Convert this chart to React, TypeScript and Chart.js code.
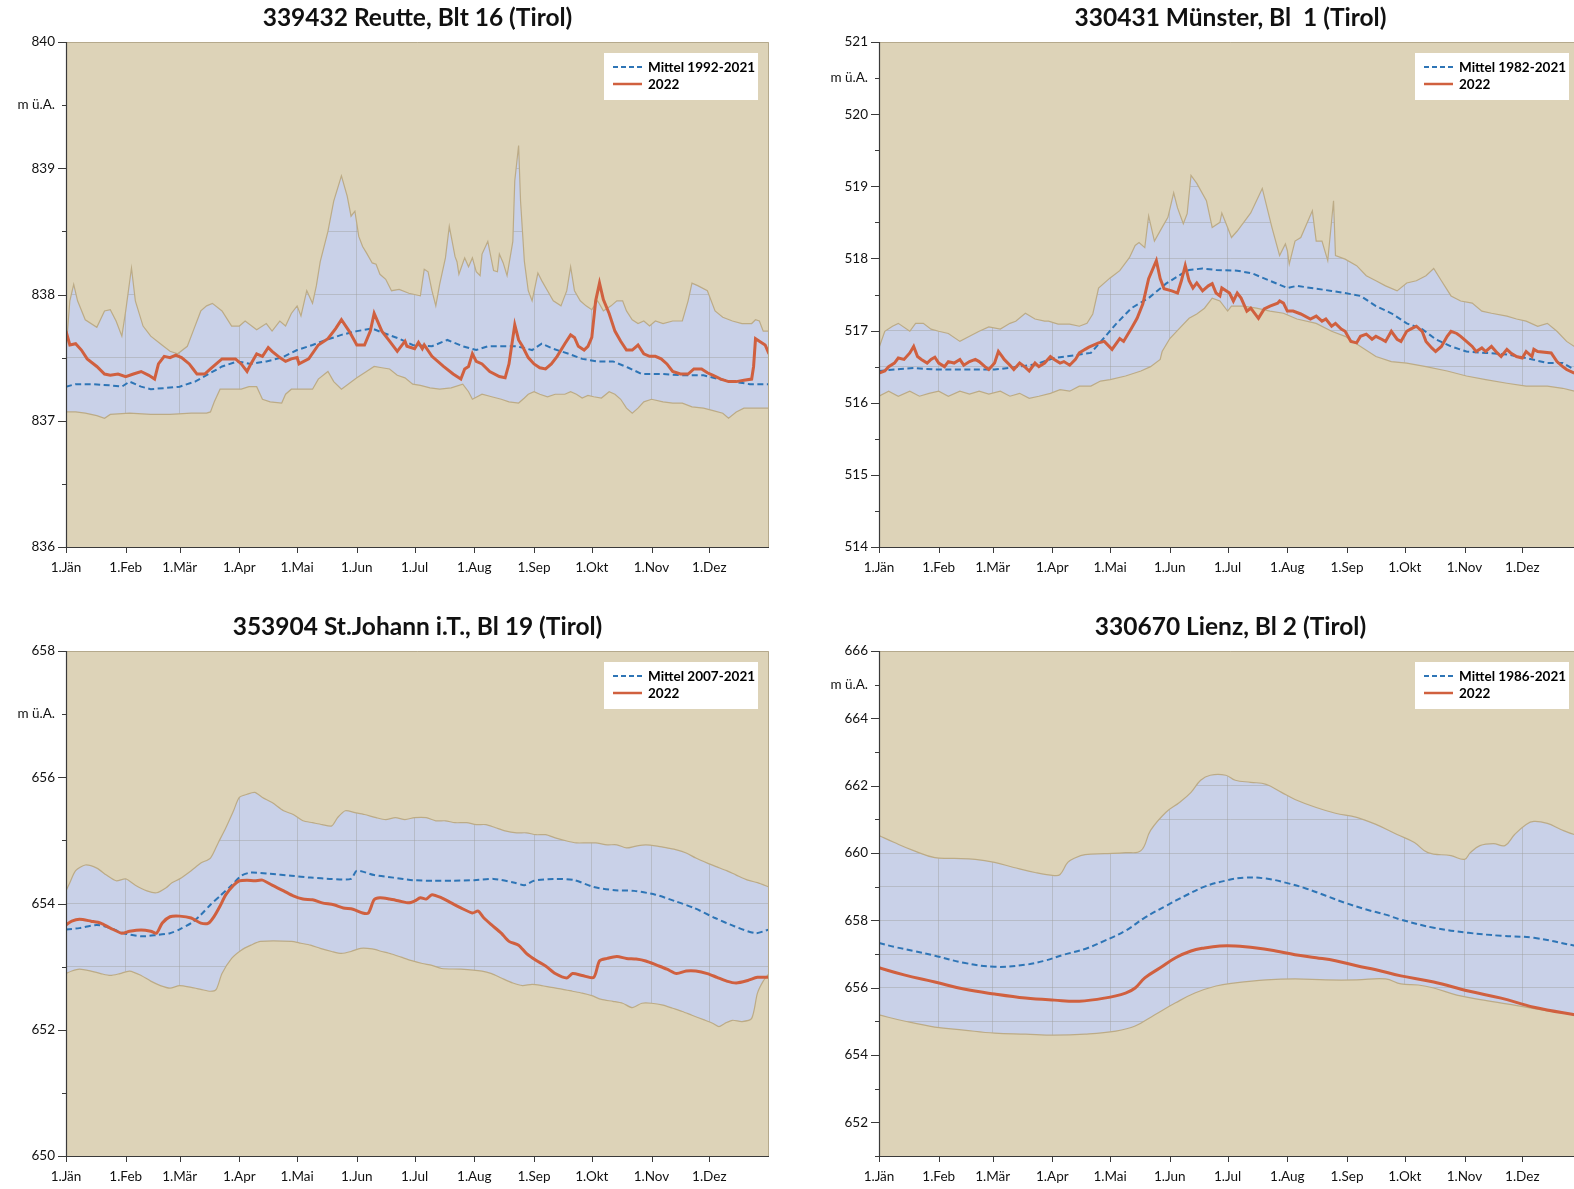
import React, { useEffect, useRef } from 'react';
import { Chart, registerables } from 'chart.js';

Chart.register(...registerables);

type Pts = [number, number][];

const FONT = 'Lato, "Open Sans", sans-serif';
const UNIT = 'm ü.A.';

const monthStarts = [0, 31, 59, 90, 120, 151, 181, 212, 243, 273, 304, 334];
const monthLabels = ['1.Jän', '1.Feb', '1.Mär', '1.Apr', '1.Mai', '1.Jun', '1.Jul', '1.Aug', '1.Sep', '1.Okt', '1.Nov', '1.Dez'];

// ---------- 339432 Reutte ----------
const reutteMax: Pts = [[0,837.55],[2,837.95],[4,838.08],[6,837.95],[10,837.80],[16,837.74],[20,837.87],[23,837.88],[26,837.79],[29,837.67],[31,837.87],[34,838.21],[36,837.95],[40,837.75],[44,837.67],[49,837.61],[54,837.55],[58,837.53],[63,837.59],[66,837.71],[70,837.87],[73,837.91],[76,837.93],[81,837.87],[86,837.75],[90,837.75],[93,837.79],[99,837.72],[104,837.77],[107,837.71],[111,837.79],[114,837.75],[117,837.85],[120,837.91],[122,837.83],[125,838.03],[128,837.93],[130,838.07],[132,838.26],[136,838.50],[139,838.74],[143,838.94],[146,838.78],[148,838.62],[150,838.66],[152,838.46],[154,838.38],[156,838.33],[159,838.25],[161,838.24],[163,838.16],[166,838.12],[169,838.03],[173,838.04],[178,838.01],[184,837.99],[186,838.20],[188,838.18],[190,838.03],[192,837.91],[194,838.08],[197,838.29],[199,838.54],[200,838.46],[202,838.30],[203,838.26],[204,838.16],[207,838.29],[209,838.22],[211,838.29],[213,838.18],[215,838.15],[216,838.32],[219,838.42],[222,838.19],[224,838.18],[225,838.32],[227,838.25],[229,838.15],[232,838.42],[233,838.90],[235,839.18],[236,838.74],[238,838.26],[240,838.03],[242,837.95],[245,838.17],[247,838.11],[250,838.03],[253,837.95],[257,837.91],[260,838.03],[262,838.22],[264,838.03],[267,837.95],[270,837.91],[273,837.88],[276,837.95],[279,837.87],[283,837.91],[286,837.95],[289,837.95],[291,837.87],[294,837.80],[297,837.77],[300,837.79],[303,837.75],[306,837.79],[310,837.77],[315,837.79],[320,837.79],[323,837.95],[325,838.09],[328,838.07],[333,838.03],[337,837.87],[341,837.82],[346,837.79],[351,837.77],[356,837.77],[358,837.80],[360,837.79],[362,837.71],[365,837.71]];
const reutteMin: Pts = [[0,837.07],[5,837.07],[10,837.06],[16,837.04],[20,837.02],[23,837.05],[33,837.06],[44,837.05],[54,837.05],[65,837.06],[73,837.06],[75,837.07],[77,837.15],[80,837.25],[86,837.25],[91,837.25],[95,837.27],[99,837.27],[102,837.17],[106,837.15],[112,837.14],[114,837.21],[117,837.25],[121,837.25],[128,837.25],[131,837.33],[136,837.39],[139,837.31],[143,837.25],[151,837.34],[156,837.39],[160,837.43],[164,837.42],[168,837.41],[172,837.36],[176,837.34],[180,837.29],[184,837.28],[189,837.26],[194,837.25],[200,837.26],[206,837.29],[209,837.23],[211,837.17],[216,837.21],[221,837.19],[226,837.17],[230,837.15],[235,837.14],[238,837.18],[240,837.21],[243,837.23],[246,837.21],[250,837.19],[254,837.21],[259,837.21],[262,837.23],[265,837.21],[268,837.18],[271,837.20],[274,837.19],[278,837.18],[282,837.23],[285,837.21],[288,837.17],[291,837.10],[294,837.06],[297,837.10],[300,837.15],[304,837.17],[310,837.15],[315,837.14],[320,837.14],[325,837.11],[331,837.10],[336,837.08],[341,837.06],[344,837.02],[348,837.07],[352,837.10],[357,837.10],[365,837.10]];
const reutteMean: Pts = [[0,837.27],[5,837.29],[13,837.29],[23,837.28],[29,837.27],[33,837.31],[39,837.27],[44,837.25],[52,837.26],[59,837.27],[67,837.31],[74,837.37],[81,837.43],[89,837.47],[96,837.45],[104,837.47],[112,837.50],[120,837.56],[128,837.60],[135,837.64],[143,837.68],[151,837.71],[159,837.73],[164,837.70],[173,837.65],[180,837.60],[190,837.59],[198,837.64],[206,837.59],[213,837.56],[219,837.59],[226,837.59],[234,837.59],[242,837.56],[247,837.61],[253,837.57],[261,837.53],[268,837.49],[276,837.47],[284,837.47],[292,837.42],[299,837.37],[310,837.37],[320,837.36],[331,837.36],[339,837.33],[346,837.31],[355,837.29],[365,837.29]];
const reutte2022: Pts = [[0,837.71],[2,837.60],[5,837.61],[8,837.56],[11,837.49],[16,837.43],[20,837.37],[23,837.36],[27,837.37],[31,837.35],[35,837.37],[39,837.39],[43,837.36],[46,837.33],[48,837.45],[51,837.51],[54,837.50],[57,837.52],[60,837.50],[64,837.45],[66,837.41],[68,837.37],[72,837.37],[75,837.41],[78,837.45],[81,837.49],[84,837.49],[88,837.49],[91,837.45],[94,837.39],[96,837.45],[99,837.53],[102,837.51],[105,837.58],[107,837.55],[111,837.50],[114,837.47],[117,837.49],[120,837.50],[121,837.45],[126,837.49],[131,837.60],[136,837.65],[140,837.73],[143,837.80],[147,837.71],[151,837.60],[155,837.60],[158,837.71],[160,837.85],[164,837.71],[168,837.63],[172,837.55],[176,837.63],[177,837.59],[181,837.57],[183,837.62],[185,837.57],[186,837.60],[190,837.51],[196,837.43],[201,837.37],[205,837.33],[207,837.41],[209,837.43],[211,837.53],[213,837.47],[216,837.45],[220,837.39],[225,837.35],[228,837.34],[230,837.45],[233,837.76],[235,837.64],[237,837.59],[240,837.50],[243,837.45],[246,837.42],[249,837.41],[252,837.45],[255,837.51],[259,837.61],[262,837.68],[264,837.66],[266,837.59],[269,837.56],[271,837.59],[273,837.66],[275,837.95],[277,838.09],[279,837.96],[282,837.85],[285,837.71],[288,837.63],[291,837.56],[294,837.56],[297,837.60],[300,837.53],[303,837.51],[306,837.51],[309,837.49],[312,837.45],[315,837.39],[319,837.37],[323,837.37],[326,837.41],[330,837.41],[333,837.38],[336,837.36],[340,837.33],[344,837.31],[348,837.31],[352,837.32],[356,837.33],[357,837.43],[358,837.65],[360,837.63],[363,837.60],[365,837.53]];

// ---------- 330431 Münster ----------
const muensterMax: Pts = [[0,516.76],[3,516.99],[7,517.06],[10,517.10],[16,516.99],[19,517.10],[23,517.10],[27,517.02],[31,516.99],[36,516.96],[42,516.85],[47,516.92],[52,516.99],[57,517.05],[63,517.02],[68,517.10],[71,517.13],[76,517.24],[81,517.16],[86,517.13],[88,517.13],[93,517.09],[99,517.09],[104,517.06],[108,517.10],[111,517.23],[114,517.59],[120,517.73],[125,517.83],[130,518.01],[133,518.18],[135,518.22],[138,518.15],[140,518.59],[143,518.24],[147,518.43],[150,518.57],[153,518.91],[155,518.70],[158,518.48],[160,518.62],[162,519.15],[165,519.04],[170,518.80],[173,518.43],[177,518.50],[178,518.63],[181,518.43],[183,518.29],[186,518.38],[193,518.63],[199,518.97],[204,518.43],[208,518.04],[211,518.20],[212,518.11],[213,517.92],[216,518.24],[219,518.29],[225,518.66],[227,518.24],[230,518.24],[233,517.97],[236,518.80],[237,518.04],[242,517.99],[248,517.90],[253,517.76],[258,517.69],[263,517.62],[269,517.55],[274,517.66],[279,517.69],[284,517.76],[288,517.86],[292,517.69],[297,517.48],[302,517.41],[308,517.38],[313,517.27],[318,517.24],[326,517.20],[331,517.16],[336,517.13],[342,517.06],[347,517.10],[352,516.99],[357,516.85],[361,516.78],[365,516.76]];
const muensterMin: Pts = [[0,516.09],[5,516.16],[10,516.09],[16,516.16],[21,516.09],[26,516.13],[31,516.16],[36,516.09],[42,516.16],[47,516.12],[52,516.16],[57,516.12],[63,516.16],[68,516.09],[73,516.13],[78,516.06],[83,516.09],[89,516.13],[94,516.18],[99,516.16],[104,516.23],[110,516.23],[115,516.30],[120,516.32],[128,516.37],[136,516.44],[141,516.50],[146,516.60],[147,516.71],[151,516.89],[156,517.03],[161,517.17],[165,517.23],[169,517.31],[173,517.45],[177,517.41],[181,517.27],[183,517.34],[189,517.34],[196,517.31],[203,517.27],[210,517.24],[217,517.16],[227,517.10],[235,516.99],[242,516.92],[250,516.78],[258,516.64],[266,516.57],[274,516.55],[284,516.50],[295,516.44],[305,516.37],[315,516.32],[326,516.27],[336,516.23],[347,516.23],[355,516.20],[361,516.16],[365,516.16]];
const muensterMean: Pts = [[0,516.44],[8,516.46],[18,516.48],[29,516.46],[39,516.46],[50,516.46],[60,516.46],[70,516.49],[81,516.53],[91,516.62],[102,516.66],[110,516.69],[114,516.81],[123,517.09],[131,517.31],[140,517.45],[149,517.65],[158,517.80],[161,517.84],[168,517.86],[175,517.84],[186,517.83],[194,517.79],[203,517.69],[212,517.59],[217,517.62],[227,517.58],[235,517.55],[242,517.52],[250,517.48],[258,517.34],[266,517.24],[274,517.10],[282,517.02],[289,516.88],[297,516.78],[305,516.71],[315,516.69],[326,516.67],[336,516.62],[347,516.55],[355,516.55],[361,516.46],[365,516.44]];
const muenster2022: Pts = [[0,516.41],[3,516.44],[5,516.50],[8,516.55],[10,516.62],[13,516.60],[16,516.69],[18,516.78],[20,516.64],[22,516.60],[25,516.55],[27,516.60],[29,516.63],[31,516.55],[34,516.50],[36,516.57],[39,516.55],[42,516.60],[44,516.52],[47,516.57],[50,516.60],[52,516.57],[55,516.50],[57,516.46],[60,516.55],[62,516.71],[64,516.64],[65,516.60],[68,516.52],[70,516.46],[73,516.55],[76,516.49],[78,516.44],[81,516.55],[83,516.50],[86,516.55],[89,516.64],[91,516.60],[94,516.55],[96,516.57],[99,516.52],[102,516.60],[104,516.69],[107,516.74],[109,516.77],[114,516.83],[117,516.85],[121,516.74],[125,516.89],[127,516.85],[131,517.03],[134,517.17],[137,517.37],[140,517.72],[144,517.97],[146,517.72],[148,517.58],[152,517.55],[155,517.52],[157,517.69],[159,517.90],[161,517.69],[163,517.59],[165,517.66],[168,517.55],[171,517.62],[173,517.65],[175,517.52],[177,517.48],[178,517.59],[182,517.52],[184,517.41],[186,517.52],[188,517.45],[191,517.27],[193,517.31],[197,517.17],[200,517.30],[203,517.34],[207,517.38],[208,517.41],[210,517.38],[212,517.27],[215,517.27],[219,517.23],[224,517.16],[227,517.20],[230,517.13],[232,517.16],[235,517.06],[237,517.10],[240,517.02],[242,516.99],[245,516.85],[248,516.83],[250,516.92],[253,516.95],[256,516.88],[258,516.92],[261,516.88],[263,516.85],[266,516.99],[269,516.88],[271,516.85],[274,516.99],[276,517.02],[279,517.06],[282,516.99],[284,516.85],[287,516.76],[289,516.71],[292,516.78],[295,516.92],[297,516.99],[300,516.96],[302,516.92],[305,516.85],[308,516.78],[310,516.71],[313,516.76],[315,516.71],[318,516.78],[321,516.69],[323,516.64],[326,516.74],[328,516.69],[331,516.64],[334,516.62],[336,516.71],[339,516.64],[340,516.74],[342,516.71],[349,516.69],[352,516.57],[355,516.50],[357,516.46],[361,516.41]];

// ---------- 353904 St.Johann i.T. ----------
const stjohannMax: Pts = [[0,654.20],[2,654.33],[5,654.52],[10,654.61],[16,654.56],[21,654.45],[26,654.36],[31,654.39],[36,654.29],[42,654.20],[47,654.17],[52,654.25],[55,654.33],[59,654.39],[65,654.52],[70,654.64],[75,654.72],[79,654.96],[83,655.20],[87,655.47],[90,655.68],[94,655.73],[98,655.76],[102,655.68],[107,655.60],[113,655.47],[118,655.41],[123,655.31],[128,655.28],[133,655.25],[138,655.23],[141,655.36],[145,655.47],[150,655.44],[155,655.41],[161,655.36],[166,655.33],[171,655.36],[176,655.33],[181,655.36],[187,655.36],[192,655.31],[197,655.31],[202,655.28],[208,655.28],[213,655.25],[218,655.25],[223,655.20],[228,655.15],[234,655.12],[239,655.12],[244,655.09],[249,655.09],[254,655.04],[260,654.99],[265,654.96],[270,654.96],[275,654.96],[281,654.93],[286,654.93],[291,654.88],[296,654.91],[301,654.93],[307,654.91],[312,654.88],[317,654.85],[322,654.80],[327,654.72],[333,654.64],[338,654.58],[343,654.52],[348,654.45],[354,654.37],[359,654.33],[365,654.26]];
const stjohannMin: Pts = [[0,652.89],[3,652.93],[7,652.96],[13,652.93],[18,652.89],[23,652.86],[28,652.89],[33,652.93],[39,652.86],[44,652.77],[49,652.70],[54,652.66],[59,652.70],[65,652.67],[70,652.64],[75,652.61],[78,652.64],[81,652.89],[86,653.13],[91,653.26],[96,653.34],[101,653.40],[117,653.40],[122,653.37],[127,653.34],[132,653.29],[138,653.24],[143,653.21],[148,653.24],[153,653.29],[159,653.28],[164,653.24],[169,653.20],[174,653.15],[179,653.10],[185,653.05],[190,653.02],[195,652.97],[205,652.96],[216,652.93],[221,652.89],[226,652.82],[232,652.74],[237,652.70],[242,652.72],[247,652.70],[252,652.67],[258,652.64],[263,652.61],[268,652.58],[273,652.54],[278,652.48],[284,652.45],[289,652.42],[294,652.35],[299,652.42],[304,652.42],[310,652.39],[315,652.34],[320,652.29],[325,652.23],[331,652.16],[336,652.10],[339,652.05],[342,652.10],[346,652.15],[351,652.13],[356,652.18],[359,652.58],[362,652.77],[365,652.89]];
const stjohannMean: Pts = [[0,653.59],[7,653.61],[16,653.66],[23,653.61],[30,653.53],[39,653.48],[47,653.50],[54,653.53],[59,653.59],[65,653.69],[70,653.82],[75,653.98],[80,654.12],[86,654.29],[91,654.44],[96,654.49],[106,654.47],[117,654.44],[127,654.41],[138,654.39],[148,654.39],[151,654.52],[160,654.45],[170,654.41],[180,654.37],[191,654.36],[201,654.36],[212,654.37],[222,654.39],[233,654.33],[238,654.29],[243,654.36],[253,654.39],[264,654.37],[274,654.26],[285,654.21],[295,654.20],[306,654.14],[316,654.04],[326,653.93],[337,653.77],[347,653.64],[358,653.53],[365,653.59]];
const stjohann2022: Pts = [[0,653.66],[3,653.72],[7,653.75],[13,653.72],[18,653.69],[23,653.61],[29,653.53],[33,653.56],[39,653.58],[44,653.56],[47,653.53],[50,653.69],[54,653.79],[59,653.80],[65,653.77],[70,653.69],[74,653.69],[77,653.80],[80,653.96],[83,654.14],[87,654.29],[90,654.36],[94,654.37],[98,654.36],[102,654.37],[107,654.29],[113,654.20],[118,654.12],[123,654.07],[128,654.06],[133,654.01],[139,653.98],[144,653.93],[149,653.91],[154,653.85],[157,653.85],[160,654.06],[163,654.09],[168,654.07],[173,654.04],[178,654.01],[181,654.04],[184,654.09],[187,654.07],[190,654.14],[195,654.09],[200,654.01],[205,653.93],[211,653.85],[214,653.88],[217,653.77],[221,653.66],[226,653.53],[230,653.40],[235,653.34],[239,653.21],[244,653.10],[249,653.01],[254,652.89],[260,652.82],[263,652.89],[268,652.86],[274,652.83],[277,653.09],[281,653.13],[286,653.16],[291,653.13],[296,653.12],[301,653.09],[307,653.02],[312,652.96],[317,652.89],[322,652.93],[327,652.93],[333,652.89],[338,652.83],[343,652.77],[348,652.74],[354,652.78],[359,652.83],[365,652.83]];

// ---------- 330670 Lienz ----------
const lienzMax: Pts = [[0,660.52],[8,660.31],[18,660.07],[29,659.86],[39,659.84],[50,659.81],[60,659.72],[70,659.57],[81,659.42],[91,659.33],[94,659.36],[98,659.72],[102,659.86],[107,659.95],[117,659.98],[128,660.01],[136,660.07],[141,660.67],[149,661.21],[156,661.50],[162,661.80],[167,662.16],[172,662.31],[180,662.31],[185,662.16],[193,662.10],[201,662.04],[209,661.80],[216,661.59],[227,661.35],[237,661.18],[248,661.06],[258,660.85],[269,660.55],[278,660.31],[285,660.01],[297,659.92],[304,659.81],[307,660.01],[312,660.22],[319,660.28],[325,660.22],[330,660.55],[336,660.85],[340,660.94],[347,660.88],[354,660.70],[361,660.55],[365,660.52]];
const lienzMin: Pts = [[0,655.19],[13,655.01],[29,654.83],[44,654.74],[60,654.65],[76,654.62],[91,654.59],[107,654.62],[123,654.71],[133,654.86],[143,655.19],[154,655.55],[164,655.84],[175,656.05],[185,656.14],[201,656.23],[216,656.26],[232,656.23],[248,656.23],[263,656.26],[271,656.11],[280,656.08],[288,655.99],[300,655.78],[314,655.63],[332,655.46],[344,655.34],[362,655.19],[365,655.17]];
const lienzMean: Pts = [[0,657.33],[8,657.21],[18,657.09],[29,656.95],[44,656.74],[60,656.62],[76,656.68],[86,656.80],[96,656.98],[107,657.15],[117,657.39],[128,657.69],[138,658.08],[149,658.43],[159,658.73],[169,659.00],[180,659.18],[190,659.27],[201,659.24],[211,659.12],[222,658.94],[232,658.73],[242,658.52],[253,658.32],[263,658.17],[271,658.02],[288,657.78],[306,657.63],[323,657.54],[340,657.48],[362,657.24],[365,657.22]];
const lienz2022: Pts = [[0,656.59],[13,656.38],[29,656.17],[44,655.96],[60,655.81],[76,655.69],[91,655.63],[104,655.60],[117,655.69],[128,655.84],[133,655.99],[138,656.29],[146,656.59],[154,656.89],[162,657.09],[169,657.18],[177,657.24],[185,657.24],[196,657.18],[206,657.09],[216,656.98],[227,656.89],[237,656.80],[248,656.65],[258,656.53],[271,656.35],[288,656.17],[306,655.90],[323,655.69],[340,655.42],[362,655.19],[365,655.17]];

const titles = ['339432 Reutte, Blt 16 (Tirol)', '330431 Münster, Bl  1 (Tirol)', '353904 St.Johann i.T., Bl 19 (Tirol)', '330670 Lienz, Bl 2 (Tirol)'];
const meanLabels = ['Mittel 1992-2021', 'Mittel 1982-2021', 'Mittel 2007-2021', 'Mittel 1986-2021'];
const curLabel = '2022';

const TAN = '#DDD3B8';
const BAND = '#C9D1E8';
const EDGE = '#BCAB86';
const GRID = 'rgba(160,160,160,0.45)';
const BLUE = '#2E75B6';
const RED = '#D0603F';
const AXIS = '#3A3A3A';
const FRAME = '#B5A98C';

interface Panel {
  title: string; legend: string;
  yMin: number; yMax: number; step: number; major: number; unitAt: number;
  max: Pts; min: Pts; mean: Pts; cur: Pts; tension: number;
  left: number; top: number; w: number; h: number;
  axisW: number; pad: { top: number; right: number; bottom: number; left: number };
  legendInset: number;
}

const panels: Panel[] = [
  { title: titles[0], legend: meanLabels[0], yMin: 836, yMax: 840, step: 0.5, major: 1, unitAt: 839.5,
    max: reutteMax, min: reutteMin, mean: reutteMean, cur: reutte2022, tension: 0,
    left: 0, top: 0, w: 790, h: 600, axisW: 66, pad: { top: 42, right: 21, bottom: 23, left: 0 }, legendInset: 11 },
  { title: titles[1], legend: meanLabels[1], yMin: 514, yMax: 521, step: 0.5, major: 1, unitAt: 520.5,
    max: muensterMax, min: muensterMin, mean: muensterMean, cur: muenster2022, tension: 0,
    left: 790, top: 0, w: 800, h: 600, axisW: 89, pad: { top: 42, right: 8, bottom: 23, left: 0 }, legendInset: 13 },
  { title: titles[2], legend: meanLabels[2], yMin: 650, yMax: 658, step: 1, major: 2, unitAt: 657,
    max: stjohannMax, min: stjohannMin, mean: stjohannMean, cur: stjohann2022, tension: 0.25,
    left: 0, top: 600, w: 790, h: 589, axisW: 66, pad: { top: 51, right: 21, bottom: 3, left: 0 }, legendInset: 11 },
  { title: titles[3], legend: meanLabels[3], yMin: 651, yMax: 666, step: 1, major: 2, unitAt: 665,
    max: lienzMax, min: lienzMin, mean: lienzMean, cur: lienz2022, tension: 0.4,
    left: 790, top: 600, w: 800, h: 589, axisW: 89, pad: { top: 51, right: 8, bottom: 3, left: 0 }, legendInset: 13 },
];

function isMajor(v: number, major: number) {
  return Math.abs(v / major - Math.round(v / major)) < 1e-6;
}

function makeDecor(p: Panel) {
  return {
    id: 'decor',
    beforeDraw(chart: any) {
      const { ctx, chartArea: a } = chart;
      ctx.save();
      ctx.fillStyle = BAND;
      ctx.fillRect(a.left, a.top, a.right - a.left, a.bottom - a.top);
      ctx.restore();
    },
    afterDraw(chart: any) {
      const { ctx, chartArea: a } = chart;
      const ys = chart.scales.y;
      const xs = chart.scales.x;
      const seg = (x1: number, y1: number, x2: number, y2: number) => {
        ctx.beginPath(); ctx.moveTo(x1, y1); ctx.lineTo(x2, y2); ctx.stroke();
      };
      ctx.save();
      ctx.lineWidth = 1;
      ctx.strokeStyle = FRAME;
      ctx.beginPath();
      ctx.moveTo(a.left, a.top + 0.5);
      ctx.lineTo(a.right - 0.5, a.top + 0.5);
      ctx.lineTo(a.right - 0.5, a.bottom);
      ctx.stroke();
      ctx.strokeStyle = AXIS;
      ctx.lineWidth = 1.2;
      ctx.beginPath();
      ctx.moveTo(a.left + 0.5, a.top);
      ctx.lineTo(a.left + 0.5, a.bottom + 0.5);
      ctx.lineTo(a.right, a.bottom + 0.5);
      ctx.stroke();
      ctx.lineWidth = 1;
      ys.ticks.forEach((t: any) => {
        const y = Math.round(ys.getPixelForValue(t.value)) + 0.5;
        const len = isMajor(t.value, p.major) ? 8 : 4;
        seg(a.left - len, y, a.left, y);
      });
      xs.ticks.forEach((t: any) => {
        const x = Math.round(xs.getPixelForValue(t.value)) + 0.5;
        seg(x, a.bottom, x, a.bottom + 6);
      });
      // legend
      const bw = 154, bh = 47;
      const bx = a.right - p.legendInset - bw;
      const by = a.top + 11;
      ctx.fillStyle = '#FFFFFF';
      ctx.fillRect(bx, by, bw, bh);
      ctx.strokeStyle = BLUE; ctx.lineWidth = 2; ctx.setLineDash([5, 3]);
      seg(bx + 9, by + 14, bx + 38, by + 14);
      ctx.setLineDash([]);
      ctx.strokeStyle = RED; ctx.lineWidth = 2.5;
      seg(bx + 9, by + 31, bx + 38, by + 31);
      ctx.fillStyle = '#000';
      ctx.font = `bold 13.5px ${FONT}`;
      ctx.textAlign = 'left';
      ctx.textBaseline = 'middle';
      ctx.fillText(p.legend, bx + 44, by + 15);
      ctx.fillText(curLabel, bx + 44, by + 32);
      // title
      ctx.font = `bold 24.5px ${FONT}`;
      ctx.textAlign = 'center';
      ctx.fillStyle = '#111';
      ctx.fillText(p.title, (a.left + a.right) / 2, a.top - 24);
      ctx.restore();
    },
  };
}

function PanelChart({ p }: { p: Panel }) {
  const ref = useRef<HTMLCanvasElement>(null);
  useEffect(() => {
    const xy = (arr: Pts) => arr.map(([x, y]) => ({ x, y }));
    const chart = new Chart(ref.current as HTMLCanvasElement, {
      type: 'line',
      data: {
        datasets: [
          { label: 'max', data: xy(p.max), fill: 'end', backgroundColor: TAN, borderColor: EDGE, borderWidth: 1.2, pointRadius: 0, tension: p.tension, order: 4 },
          { label: 'min', data: xy(p.min), fill: 'start', backgroundColor: TAN, borderColor: EDGE, borderWidth: 1.2, pointRadius: 0, tension: p.tension, order: 3 },
          { label: p.legend, data: xy(p.mean), fill: false, borderColor: BLUE, borderDash: [6, 3.5], borderWidth: 2, pointRadius: 0, tension: p.tension, order: 2 },
          { label: curLabel, data: xy(p.cur), fill: false, borderColor: RED, borderWidth: 3, pointRadius: 0, tension: p.tension, order: 1 },
        ] as any,
      },
      options: {
        responsive: false,
        maintainAspectRatio: false,
        animation: false,
        events: [],
        layout: { padding: p.pad },
        plugins: { legend: { display: false }, title: { display: false }, tooltip: { enabled: false } },
        scales: {
          x: {
            type: 'linear', min: 0, max: 365,
            afterBuildTicks: (s: any) => { s.ticks = monthStarts.map((v) => ({ value: v })); },
            afterFit: (s: any) => { s.height = 30; },
            grid: { color: GRID, lineWidth: 1, drawTicks: false },
            border: { display: false },
            ticks: {
              autoSkip: false, maxRotation: 0, padding: 13, color: '#111',
              font: { family: FONT, size: 13.5 },
              callback: (v: any) => { const i = monthStarts.indexOf(Number(v)); return i >= 0 ? monthLabels[i] : ''; },
            },
          },
          y: {
            type: 'linear', min: p.yMin, max: p.yMax,
            afterFit: (s: any) => { s.width = p.axisW; },
            grid: { color: GRID, lineWidth: 1, drawTicks: false },
            border: { display: false },
            ticks: {
              stepSize: p.step, autoSkip: false, padding: 11, color: '#111',
              font: { family: FONT, size: 13.5 },
              callback: (v: any) => {
                const n = Number(v);
                if (Math.abs(n - p.unitAt) < 1e-6) return UNIT;
                if (isMajor(n, p.major)) return String(Math.round(n));
                return '';
              },
            },
          },
        },
      } as any,
      plugins: [makeDecor(p)],
    });
    return () => chart.destroy();
  }, []);
  return (
    <canvas ref={ref} width={p.w} height={p.h}
      style={{ position: 'absolute', left: p.left, top: p.top, width: p.w, height: p.h }} />
  );
}

export default function App() {
  return (
    <div style={{ position: 'absolute', left: 0, top: 0, width: 1574, height: 1189, overflow: 'hidden', background: '#fff' }}>
      {panels.map((p, i) => <PanelChart key={i} p={p} />)}
    </div>
  );
}
